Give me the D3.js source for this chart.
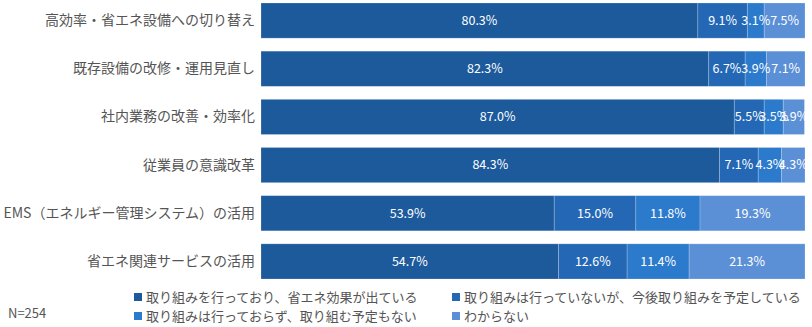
<!DOCTYPE html>
<html><head><meta charset="utf-8">
<script src="https://cdn.jsdelivr.net/npm/d3@7"></script>
<style>body{margin:0;background:#fff}svg{display:block}text{font-family:"Noto Sans CJK JP","Noto Sans",sans-serif}</style>
</head><body><svg id="c" width="812" height="327"></svg>
<script>
const categories = ["高効率・省エネ設備への切り替え","既存設備の改修・運用見直し","社内業務の改善・効率化","従業員の意識改革","EMS（エネルギー管理システム）の活用","省エネ関連サービスの活用"];
const seriesNames = ["取り組みを行っており、省エネ効果が出ている","取り組みは行っていないが、今後取り組みを予定している","取り組みは行っておらず、取り組む予定もない","わからない"];
const s1 = [80.3, 82.3, 87.0, 84.3, 53.9, 54.7];
const s2 = [9.1, 6.7, 5.5, 7.1, 15.0, 12.6];
const s3 = [3.1, 3.9, 3.5, 4.3, 11.8, 11.4];
const s4 = [7.5, 7.1, 3.9, 4.3, 19.3, 21.3];
const colors = ["#1d5a9c","#2468b5","#2b7acc","#5b90d6"];
const note = "N=254";

const svg = d3.select("#c");
const series = [s1,s2,s3,s4];
const x = d3.scaleLinear().domain([0,100]).range([261,805]);
const y = d3.scaleBand().domain(categories).range([3,279]).paddingInner(0.27).paddingOuter(0);

categories.forEach((c,i)=>{
  let acc = 0;
  series.forEach((s,k)=>{
    const v = s[i];
    svg.append("rect").attr("x",x(acc)).attr("y",y(c)).attr("width",x(acc+v)-x(acc)).attr("height",y.bandwidth())
      .attr("fill",colors[k]).attr("stroke","rgba(255,255,255,0.25)").attr("stroke-width",0.8);
    acc += v;
  });
  acc = 0;
  series.forEach((s,k)=>{
    const v = s[i];
    svg.append("text").attr("x",x(acc+v/2)).attr("y",y(c)+y.bandwidth()/2).attr("dy","0.35em")
      .attr("text-anchor","middle").attr("fill","#fff").attr("font-size",12.5).text(v.toFixed(1)+"%");
    acc += v;
  });
});

const ax = svg.append("g").attr("transform","translate(255,0)").call(d3.axisLeft(y).tickSize(0).tickPadding(0));
ax.select(".domain").remove();
ax.selectAll("text").attr("font-size",14).attr("fill","#555").style("font-family",'"Noto Sans CJK JP",sans-serif');

const lp = [[134,297],[452,297],[134,316],[452,316]];
seriesNames.forEach((n,k)=>{
  svg.append("rect").attr("x",lp[k][0]).attr("y",lp[k][1]-4).attr("width",8).attr("height",8).attr("fill",colors[k]);
  svg.append("text").attr("x",lp[k][0]+12).attr("y",lp[k][1]).attr("dy","0.35em").attr("font-size",13).attr("fill","#555").text(n);
});
svg.append("text").attr("x",8).attr("y",313).attr("dy","0.35em").attr("font-size",13).attr("fill","#555").text(note);
</script></body></html>
